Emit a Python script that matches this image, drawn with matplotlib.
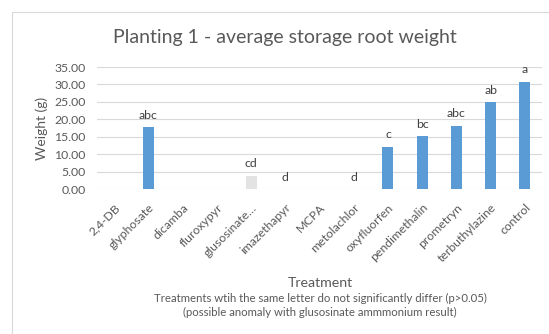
import matplotlib
matplotlib.use("Agg")
import matplotlib.pyplot as plt
from matplotlib.patches import Rectangle
import numpy as np

plt.rcParams['font.family'] = ['Lato', 'DejaVu Sans']

treatments = ["2,4-DB", "glyphosate", "dicamba", "fluroxypyr", "glusosinate…",
              "imazethapyr", "MCPA", "metolachlor", "oxyfluorfen", "pendimethalin",
              "prometryn", "terbuthylazine", "control"]
weights = [0.0, 17.9, 0.0, 0.0, 3.9, 0.0, 0.0, 0.0, 12.2, 15.2, 18.2, 25.0, 30.8]
letters = ["", "abc", "", "", "cd", "d", "", "d", "c", "bc", "abc", "ab", "a"]
y_ticks = [0, 5, 10, 15, 20, 25, 30, 35]

BLUE = "#5b9bd5"
GREY_BAR = "#e3e3e3"
TXT = "#595959"

fig = plt.figure(figsize=(5.49, 3.34), dpi=100)
W, H = 549, 334
fig.patches.append(Rectangle((12 / W, -0.1), 1.2, (H - 12) / H + 0.1,
                             transform=fig.transFigure, fill=False,
                             edgecolor="#d9d9d9", linewidth=0.8))

ax = fig.add_axes([97 / W, 1 - 189.3 / H, (542 - 97) / W, (189.3 - 67) / H])
x = np.arange(len(treatments))
colors = [GREY_BAR if t.startswith("glusosinate") else BLUE for t in treatments]
bars = ax.bar(x, weights, width=0.32, color=colors, zorder=3)

for xi, w, lab in zip(x, weights, letters):
    if lab:
        ax.annotate(lab, (xi, w), xytext=(0, 4.5), textcoords="offset points",
                    ha="center", va="bottom", fontsize=8.8, color="#404040")

ax.set_xlim(-0.5, len(treatments) - 0.5)
ax.set_ylim(0, 35)
ax.set_yticks(y_ticks)
ax.set_yticklabels([f"{v:.2f}" for v in y_ticks])
ax.yaxis.grid(True, color="#d9d9d9", linewidth=0.8, zorder=0)
ax.set_axisbelow(True)
for s in ax.spines.values():
    s.set_visible(False)
ax.tick_params(axis="both", length=0, colors=TXT, labelsize=8.8)
ax.tick_params(axis="y", pad=8)
ax.tick_params(axis="x", pad=9)
ax.set_xticks(x)
ax.set_xticklabels(treatments, rotation=45, ha="right", rotation_mode="anchor")

ax.set_ylabel("Weight (g)", fontsize=10, color=TXT, labelpad=5)

fig.text(285 / W, 1 - 37 / H, "Planting 1 - average storage root weight",
         ha="center", va="center", fontsize=14, color=TXT)
fig.text(320 / W, 1 - 283 / H, "Treatment", ha="center", va="center",
         fontsize=10.2, color=TXT)
fig.text(320 / W, 1 - 298 / H,
         "Treatments wtih the same letter do not significantly differ (p>0.05)",
         ha="center", va="center", fontsize=8.2, color=TXT)
fig.text(320 / W, 1 - 312.5 / H,
         "(possible anomaly with glusosinate ammmonium result)",
         ha="center", va="center", fontsize=8.2, color=TXT)

fig.savefig("out.png", dpi=100)
